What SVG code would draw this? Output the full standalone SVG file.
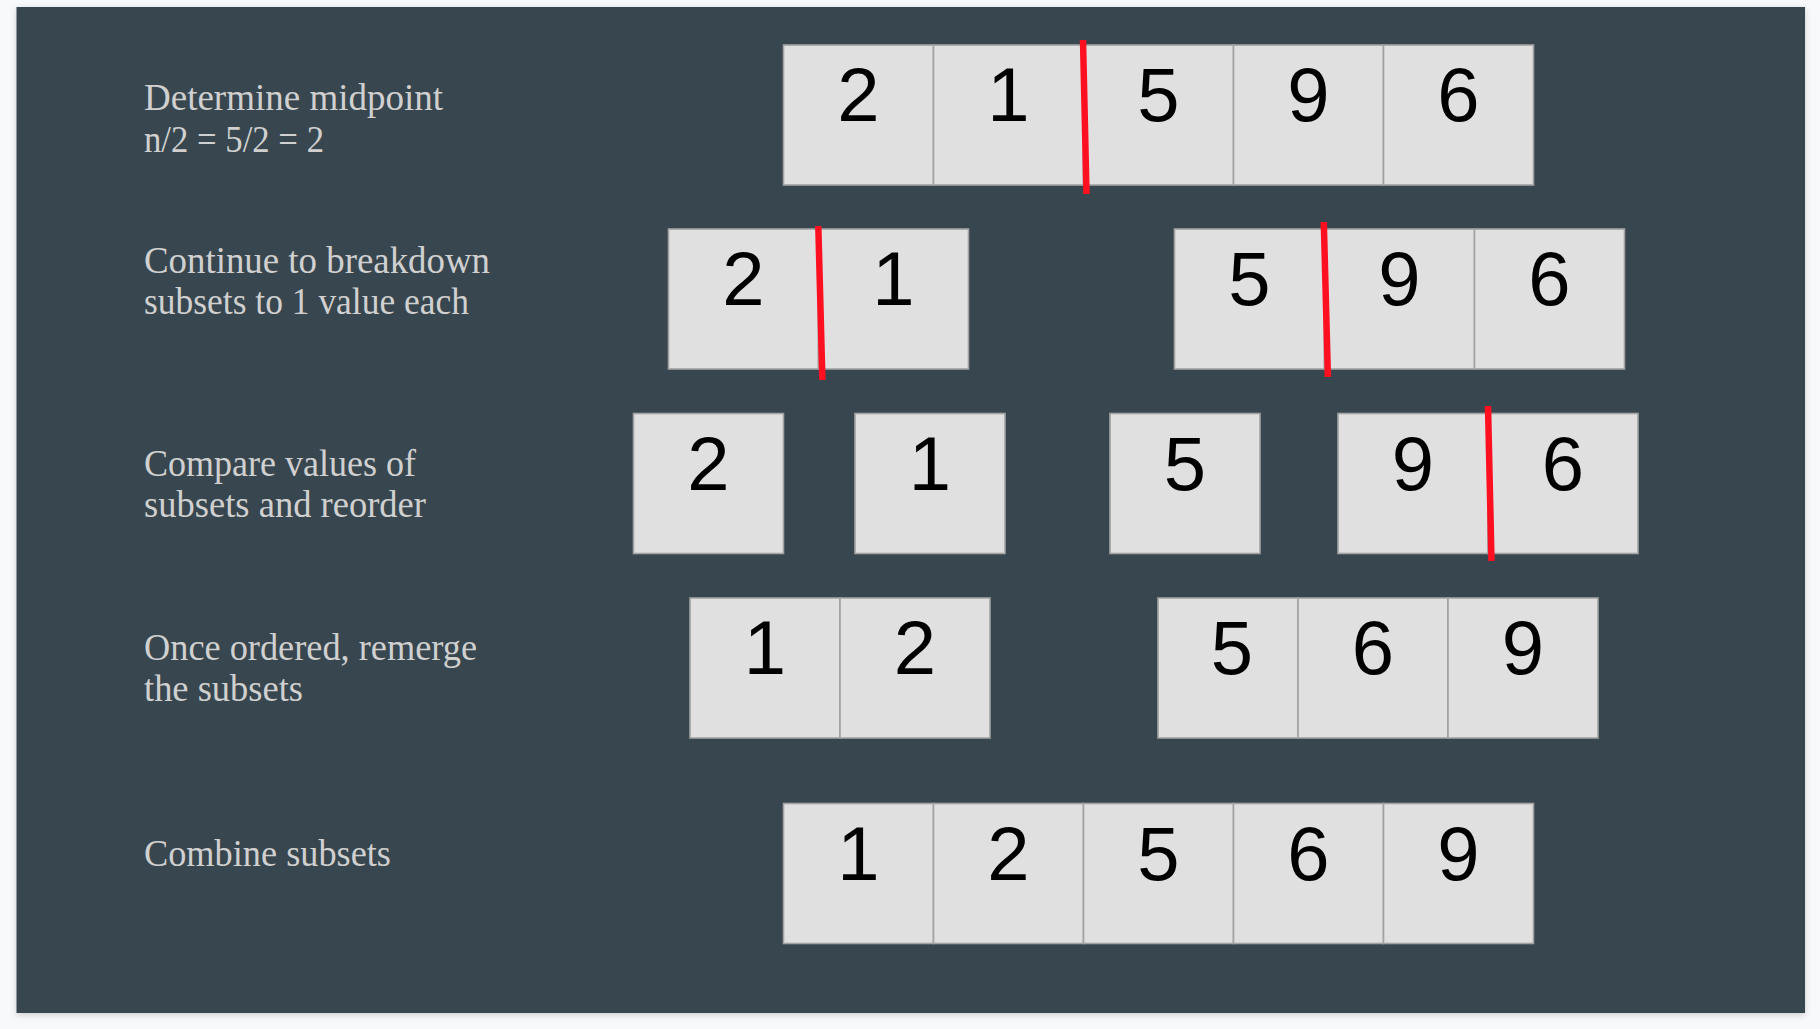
<svg xmlns="http://www.w3.org/2000/svg" width="1820" height="1029" viewBox="0 0 1820 1029">
<defs>
<filter id="sh" x="-5%" y="-5%" width="110%" height="110%">
<feDropShadow dx="0" dy="2" stdDeviation="3" flood-color="#000" flood-opacity="0.18"/>
</filter>
<style>
.cell{fill:#e0e0e0;stroke:#a2a2a2;stroke-width:1.6}
.num{font-family:"Liberation Sans",Arial,sans-serif;font-size:76px;fill:#000;text-anchor:middle}
.lbl{font-family:"Liberation Serif","Times New Roman",serif;font-size:37px;fill:#d0d0d0}
.split{stroke:#ff1020;stroke-width:6.5;fill:none}
</style>
</defs>
<rect x="0" y="0" width="1820" height="1029" fill="#f8f9fa"/>
<rect x="16.5" y="7" width="1788.5" height="1006" fill="#37474f" filter="url(#sh)"/>

<g id="labels">
<g id="label-1"><text class="lbl" x="144" y="110" textLength="299" lengthAdjust="spacingAndGlyphs">Determine midpoint</text><text class="lbl" x="144" y="151.5" textLength="180" lengthAdjust="spacingAndGlyphs">n/2 = 5/2 = 2</text></g>
<g id="label-2"><text class="lbl" x="144" y="273" textLength="346" lengthAdjust="spacingAndGlyphs">Continue to breakdown</text><text class="lbl" x="144" y="314" textLength="325" lengthAdjust="spacingAndGlyphs">subsets to 1 value each</text></g>
<g id="label-3"><text class="lbl" x="144" y="476" textLength="272" lengthAdjust="spacingAndGlyphs">Compare values of</text><text class="lbl" x="144" y="517" textLength="282" lengthAdjust="spacingAndGlyphs">subsets and reorder</text></g>
<g id="label-4"><text class="lbl" x="144" y="659.5" textLength="333" lengthAdjust="spacingAndGlyphs">Once ordered, remerge</text><text class="lbl" x="144" y="700.5" textLength="159" lengthAdjust="spacingAndGlyphs">the subsets</text></g>
<g id="label-5"><text class="lbl" x="144" y="866" textLength="247" lengthAdjust="spacingAndGlyphs">Combine subsets</text></g>
</g>

<g id="row1">
<rect class="cell" x="783.5" y="45" width="150" height="140"/><text class="num" x="858.5" y="121">2</text>
<rect class="cell" x="933.5" y="45" width="150" height="140"/><text class="num" x="1008.5" y="121">1</text>
<rect class="cell" x="1083.5" y="45" width="150" height="140"/><text class="num" x="1158.5" y="121">5</text>
<rect class="cell" x="1233.5" y="45" width="150" height="140"/><text class="num" x="1308.5" y="121">9</text>
<rect class="cell" x="1383.5" y="45" width="150" height="140"/><text class="num" x="1458.5" y="121">6</text>
</g>

<g id="row2-left">
<rect class="cell" x="668.5" y="229" width="150" height="140"/><text class="num" x="743.5" y="305">2</text>
<rect class="cell" x="818.5" y="229" width="150" height="140"/><text class="num" x="893.5" y="305">1</text>
</g>
<g id="row2-right">
<rect class="cell" x="1174.5" y="229" width="150" height="140"/><text class="num" x="1249.5" y="305">5</text>
<rect class="cell" x="1324.5" y="229" width="150" height="140"/><text class="num" x="1399.5" y="305">9</text>
<rect class="cell" x="1474.5" y="229" width="150" height="140"/><text class="num" x="1549.5" y="305">6</text>
</g>

<g id="row3-a"><rect class="cell" x="633.5" y="413.5" width="150" height="140"/><text class="num" x="708.5" y="489.5">2</text></g>
<g id="row3-b"><rect class="cell" x="855" y="413.5" width="150" height="140"/><text class="num" x="930" y="489.5">1</text></g>
<g id="row3-c"><rect class="cell" x="1110" y="413.5" width="150" height="140"/><text class="num" x="1185" y="489.5">5</text></g>
<g id="row3-d">
<rect class="cell" x="1338" y="413.5" width="150" height="140"/><text class="num" x="1413" y="489.5">9</text>
<rect class="cell" x="1488" y="413.5" width="150" height="140"/><text class="num" x="1563" y="489.5">6</text>
</g>

<g id="row4-left">
<rect class="cell" x="690" y="598" width="150" height="140"/><text class="num" x="765" y="674">1</text>
<rect class="cell" x="840" y="598" width="150" height="140"/><text class="num" x="915" y="674">2</text>
</g>
<g id="row4-right">
<rect class="cell" x="1158" y="598" width="140" height="140"/><text class="num" x="1232" y="674">5</text>
<rect class="cell" x="1298" y="598" width="150" height="140"/><text class="num" x="1373" y="674">6</text>
<rect class="cell" x="1448" y="598" width="150" height="140"/><text class="num" x="1523" y="674">9</text>
</g>

<g id="row5">
<rect class="cell" x="783.5" y="803.5" width="150" height="140"/><text class="num" x="858.5" y="879.5">1</text>
<rect class="cell" x="933.5" y="803.5" width="150" height="140"/><text class="num" x="1008.5" y="879.5">2</text>
<rect class="cell" x="1083.5" y="803.5" width="150" height="140"/><text class="num" x="1158.5" y="879.5">5</text>
<rect class="cell" x="1233.5" y="803.5" width="150" height="140"/><text class="num" x="1308.5" y="879.5">6</text>
<rect class="cell" x="1383.5" y="803.5" width="150" height="140"/><text class="num" x="1458.5" y="879.5">9</text>
</g>

<g id="connectors">
<line class="split" x1="1083" y1="40" x2="1086.5" y2="194"/>
<line class="split" x1="818.3" y1="226" x2="822.4" y2="380"/>
<line class="split" x1="1323.8" y1="222" x2="1327.9" y2="377"/>
<line class="split" x1="1488" y1="406" x2="1491.5" y2="561"/>
</g>
</svg>
